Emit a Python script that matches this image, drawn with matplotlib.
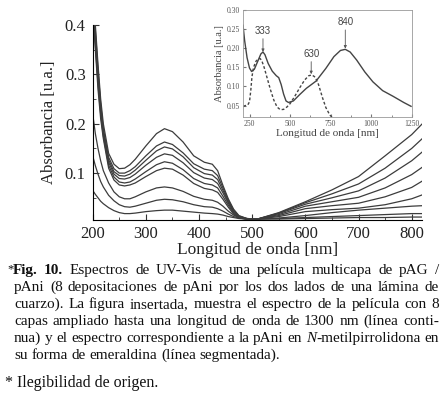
import matplotlib
matplotlib.use("Agg")
import matplotlib.pyplot as plt
from matplotlib.ticker import MultipleLocator, FormatStrFormatter

# main chart: UV-Vis spectra of the multilayer film (one list per spectrum)
wl = [200, 205, 210, 215, 220, 230, 240, 250, 260, 270, 280, 300, 320, 335, 350, 370, 390,
      410, 425, 435, 445, 455, 465, 475, 490, 510, 550, 600, 650, 700, 750, 800, 820]
abs_1 = [0.48, 0.40, 0.32, 0.25, 0.20, 0.14, 0.118, 0.109, 0.110, 0.117, 0.128, 0.155, 0.180, 0.190, 0.184, 0.163, 0.135,
         0.122, 0.118, 0.105, 0.075, 0.048, 0.027, 0.014, 0.008, 0.007, 0.020, 0.042, 0.066, 0.093, 0.135, 0.178, 0.200]
abs_2 = [0.47, 0.39, 0.31, 0.24, 0.19, 0.132, 0.109, 0.100, 0.100, 0.105, 0.113, 0.135, 0.155, 0.163, 0.158, 0.141, 0.119,
         0.108, 0.105, 0.095, 0.070, 0.045, 0.025, 0.013, 0.008, 0.007, 0.019, 0.040, 0.058, 0.078, 0.110, 0.150, 0.170]
abs_3 = [0.46, 0.38, 0.30, 0.235, 0.185, 0.127, 0.103, 0.095, 0.094, 0.098, 0.106, 0.126, 0.145, 0.153, 0.149, 0.133, 0.111,
         0.099, 0.096, 0.087, 0.065, 0.042, 0.023, 0.012, 0.008, 0.007, 0.018, 0.037, 0.050, 0.064, 0.090, 0.125, 0.143]
abs_4 = [0.45, 0.37, 0.29, 0.23, 0.18, 0.122, 0.098, 0.089, 0.088, 0.091, 0.098, 0.116, 0.132, 0.139, 0.136, 0.121, 0.101,
         0.090, 0.087, 0.079, 0.060, 0.039, 0.021, 0.011, 0.007, 0.007, 0.016, 0.033, 0.042, 0.051, 0.070, 0.097, 0.112]
abs_5 = [0.44, 0.36, 0.28, 0.22, 0.175, 0.116, 0.092, 0.082, 0.080, 0.082, 0.088, 0.103, 0.117, 0.123, 0.120, 0.107, 0.089,
         0.079, 0.076, 0.070, 0.053, 0.035, 0.019, 0.010, 0.007, 0.007, 0.014, 0.028, 0.034, 0.039, 0.052, 0.071, 0.084]
abs_6 = [0.43, 0.35, 0.27, 0.21, 0.17, 0.11, 0.086, 0.076, 0.074, 0.076, 0.080, 0.093, 0.105, 0.110, 0.108, 0.096, 0.079,
         0.069, 0.066, 0.061, 0.047, 0.031, 0.017, 0.009, 0.007, 0.007, 0.012, 0.022, 0.026, 0.029, 0.036, 0.048, 0.056]
abs_7 = [0.22, 0.18, 0.15, 0.125, 0.105, 0.080, 0.062, 0.052, 0.048, 0.048, 0.052, 0.062, 0.070, 0.072, 0.070, 0.063, 0.053,
         0.047, 0.045, 0.041, 0.033, 0.023, 0.015, 0.010, 0.007, 0.007, 0.009, 0.014, 0.020, 0.025, 0.029, 0.033, 0.034]
abs_8 = [0.135, 0.115, 0.098, 0.083, 0.072, 0.055, 0.044, 0.036, 0.032, 0.031, 0.033, 0.039, 0.045, 0.047, 0.046, 0.042, 0.036,
         0.032, 0.031, 0.028, 0.023, 0.017, 0.012, 0.009, 0.007, 0.007, 0.008, 0.010, 0.012, 0.014, 0.016, 0.018, 0.018]
abs_9 = [0.065, 0.057, 0.050, 0.043, 0.038, 0.030, 0.024, 0.020, 0.018, 0.018, 0.019, 0.022, 0.024, 0.025, 0.025, 0.023, 0.021,
         0.019, 0.018, 0.017, 0.015, 0.012, 0.010, 0.008, 0.007, 0.007, 0.007, 0.008, 0.009, 0.010, 0.010, 0.011, 0.011]
spectra = [abs_1, abs_2, abs_3, abs_4, abs_5, abs_6, abs_7, abs_8, abs_9]

# inset: 8-layer film (solid) and pAni in NMP (dashed)
film_wl = [210, 220, 235, 250, 263, 280, 300, 320, 333, 345, 365, 390, 415, 430, 445, 460, 475, 490,
           520, 560, 600, 660, 720, 770, 810, 840, 870, 910, 960, 1010, 1070, 1135, 1200, 1245]
film_abs = [0.26, 0.22, 0.175, 0.148, 0.139, 0.145, 0.165, 0.185, 0.19, 0.183, 0.16, 0.14, 0.128, 0.123, 0.105, 0.08,
            0.062, 0.058, 0.062, 0.079, 0.095, 0.114, 0.147, 0.178, 0.194, 0.197, 0.19, 0.169, 0.138, 0.112, 0.089,
            0.074, 0.058, 0.048]
nmp_wl = [212, 225, 240, 250, 258, 265, 275, 290, 305, 315, 325, 340, 360, 380, 400, 420, 440, 460, 480, 500,
          530, 560, 590, 615, 635, 655, 675, 700, 720, 745, 770]
nmp_abs = [0.048, 0.05, 0.052, 0.06, 0.09, 0.125, 0.15, 0.166, 0.172, 0.173, 0.168, 0.15, 0.12, 0.09, 0.064, 0.046,
           0.039, 0.04, 0.046, 0.055, 0.075, 0.097, 0.117, 0.128, 0.13, 0.124, 0.105, 0.07, 0.045, 0.025, 0.015]
peaks = [("333", 333, 0.19, 0.232), ("630", 630, 0.132, 0.172), ("840", 840, 0.199, 0.255)]

caption = [
    "Fig. 10. Espectros de UV-Vis de una película multicapa de pAG /",
    "pAni (8 depositaciones de pAni por los dos lados de una lámina de",
    "cuarzo). La figura insertada, muestra el espectro de la película con 8",
    "capas ampliado hasta una longitud de onda de 1300 nm (línea conti-",
    "nua) y el espectro correspondiente a la pAni en N-metilpirrolidona en",
    "su forma de emeraldina (línea segmentada).",
]
note = "* Ilegibilidad de origen."

serif = ["Liberation Serif", "DejaVu Serif"]
W, H = 442, 398
fig = plt.figure(figsize=(W / 100, H / 100), dpi=100)

# main axes
ax = fig.add_axes([0.2097, 0.4472, 0.7458, 0.49])
for s in spectra:
    ax.plot(wl, s, color="#3c3c3c", lw=0.9)
ax.set_xlim(200, 820)
ax.set_ylim(0.005, 0.4)
ax.spines["top"].set_visible(False)
ax.spines["right"].set_visible(False)
ax.xaxis.set_major_locator(MultipleLocator(100))
ax.xaxis.set_minor_locator(MultipleLocator(50))
ax.yaxis.set_major_locator(MultipleLocator(0.1))
ax.yaxis.set_minor_locator(MultipleLocator(0.05))
ax.yaxis.set_major_formatter(FormatStrFormatter("%.1f"))
ax.tick_params(which="both", direction="in", color="#333333")
ax.tick_params(which="major", length=4, labelsize=12, pad=5)
ax.tick_params(axis="x", which="major", pad=4)
ax.tick_params(which="minor", length=2)
for lab in ax.get_xticklabels() + ax.get_yticklabels():
    lab.set_family(serif)
    lab.set_color("#222222")
ax.set_xlabel("Longitud de onda [nm]", family=serif, fontsize=12.5, labelpad=0, color="#222222")
ax.set_ylabel("Absorbancia [u.a.]", family=serif, fontsize=12, labelpad=6, color="#222222")

# inset
axi = fig.add_axes([0.5498, 0.706, 0.382, 0.269])
axi.plot(film_wl, film_abs, color="#444444", lw=1.0)
axi.plot(nmp_wl, nmp_abs, color="#444444", lw=1.0, ls=(0, (2, 1.5)))
axi.set_xlim(210, 1250)
axi.set_ylim(0.02, 0.30)
axi.xaxis.set_major_locator(MultipleLocator(250))
axi.xaxis.set_minor_locator(MultipleLocator(125))
axi.yaxis.set_major_locator(MultipleLocator(0.05))
axi.yaxis.set_major_formatter(FormatStrFormatter("%.2f"))
axi.tick_params(which="both", direction="in", color="#777777")
axi.tick_params(which="major", length=2.5, labelsize=5.5, pad=2, labelcolor="#555555")
axi.tick_params(which="minor", length=1.5)
for lab in axi.get_xticklabels() + axi.get_yticklabels():
    lab.set_family(serif)
for sp in axi.spines.values():
    sp.set_color("#999999")
    sp.set_linewidth(0.6)
axi.set_xlabel("Longitud de onda [nm]", family=serif, fontsize=8, labelpad=1, color="#444444")
axi.set_ylabel("Absorbancia [u.a.]", family=serif, fontsize=7.5, labelpad=2, color="#444444")
for txt, x, y, ytxt in peaks:
    axi.annotate(txt, xy=(x, y), xytext=(x, ytxt), ha="center", va="bottom", fontsize=7,
                 color="#444444", family=["Liberation Sans", "DejaVu Sans"],
                 arrowprops=dict(arrowstyle="-|>", color="#555555", lw=0.6, mutation_scale=4,
                                 shrinkA=0, shrinkB=0))

# caption, justified word by word
cap_fs = 11
rend = fig.canvas.get_renderer()


def put_line(line, x0, x1, y, justify, n_bold=0):
    groups = []
    for i, w in enumerate(line.split(" ")):
        if i < n_bold:
            segs = [(w, "bold", "normal")]
        elif w.startswith("N-"):
            segs = [("N", "normal", "italic"), (w[1:], "normal", "normal")]
        else:
            segs = [(w, "normal", "normal")]
        g = []
        for s, wt, st in segs:
            t = fig.text(0, 1 - y / H, s, fontsize=cap_fs, fontweight=wt, fontstyle=st,
                         family=serif, va="baseline", ha="left", color="#111111")
            g.append((t, t.get_window_extent(rend).width))
        groups.append(g)
    total = sum(w for g in groups for _, w in g)
    gap = (x1 - x0 - total) / (len(groups) - 1) if justify else cap_fs * 0.25 * 100 / 72
    x = x0
    for g in groups:
        for t, w in g:
            t.set_x(x / W)
            x += w
        x += gap


fig.text(7 / W, 1 - 272 / H, "*", fontsize=9, family=serif, va="baseline", color="#111111")
base = 274
for k, line in enumerate(caption):
    x0 = 13 if k == 0 else 14
    put_line(line, x0, 439, base + 17 * k, k < len(caption) - 1, n_bold=2 if k == 0 else 0)
fig.text(5 / W, 1 - 387 / H, note, fontsize=11.5, family=serif, va="baseline", color="#111111")

fig.savefig("out.png", dpi=100)
